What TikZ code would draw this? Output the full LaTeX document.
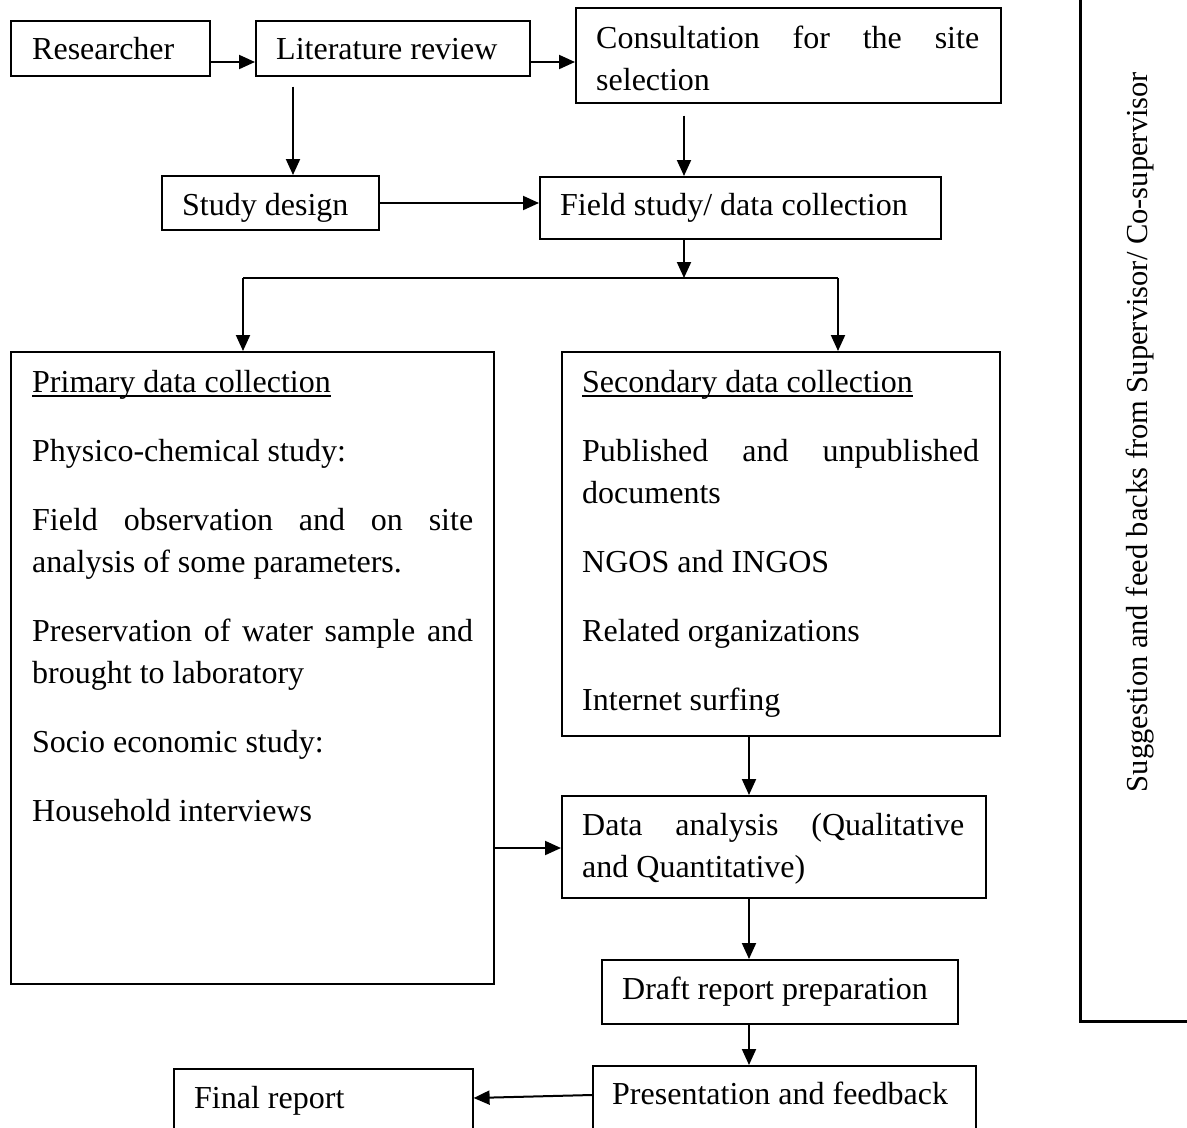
\documentclass[tikz,border=0pt]{standalone}
\usepackage{fontspec}
\setmainfont{Liberation Serif}
\usetikzlibrary{arrows.meta}
\begin{document}
\begin{tikzpicture}[x=1pt,y=-1pt,
  box/.style={draw, line width=1.6pt, rectangle, inner sep=0pt, anchor=north west},
  txt/.style={anchor=base west, inner sep=0pt, font=\fontsize{32}{42}\selectfont},
  arr/.style={line width=2pt, -{Triangle[length=16pt,width=14pt]}},
  ln/.style={line width=2pt},
  ul/.style={line width=1.5pt}]
\clip (0,0) rectangle (1187,1128);
\fill[white] (0,0) rectangle (1187,1128);

% boxes
\node[box, minimum width=199pt, minimum height=55pt] (res) at (10,20) {};
\node[box, minimum width=274pt, minimum height=55pt] (lit) at (255,20) {};
\node[box, minimum width=425pt, minimum height=95pt] (cons) at (575,7) {};
\node[box, minimum width=217pt, minimum height=54pt] (sd) at (161,175) {};
\node[box, minimum width=401pt, minimum height=62pt] (fs) at (539,176) {};
\node[box, minimum width=483pt, minimum height=632pt] (prim) at (10,351) {};
\node[box, minimum width=438pt, minimum height=384pt] (sec) at (561,351) {};
\node[box, minimum width=424pt, minimum height=102pt] (da) at (561,795) {};
\node[box, minimum width=356pt, minimum height=64pt] (dr) at (601,959) {};
\node[box, minimum width=383pt, minimum height=100pt] (pres) at (592,1065) {};
\node[box, minimum width=299pt, minimum height=100pt] (fin) at (173,1068) {};
\node[box, line width=2.6pt, minimum width=200pt, minimum height=1060pt] (sup) at (1079,-40) {};

% texts
\node[txt] (tres) at (32,59) {Researcher};
\node[txt] (tlit) at (276,59) {Literature review};
\node[txt] (tcons1) at (596,48) {\makebox[383pt][s]{Consultation for the site}};
\node[txt] (tcons2) at (596,90) {selection};
\node[txt] (tsd) at (182,215) {Study design};
\node[txt] (tfs) at (560,215) {Field study/ data collection};

\node[txt] (tprim) at (32,392) {Primary data collection};
\draw[ul] ([yshift=-4pt]tprim.base west) -- ([yshift=-4pt]tprim.base east);
\node[txt] (p1) at (32,461) {Physico-chemical study:};
\node[txt] (p2) at (32,530) {\makebox[441pt][s]{Field observation and on site}};
\node[txt] (p3) at (32,572) {analysis of some parameters.};
\node[txt] (p4) at (32,641) {\makebox[441pt][s]{Preservation of water sample and}};
\node[txt] (p5) at (32,683) {brought to laboratory};
\node[txt] (p6) at (32,752) {Socio economic study:};
\node[txt] (p7) at (32,821) {Household interviews};

\node[txt] (tsec) at (582,392) {Secondary data collection};
\draw[ul] ([yshift=-4pt]tsec.base west) -- ([yshift=-4pt]tsec.base east);
\node[txt] (s1) at (582,461) {\makebox[397pt][s]{Published and unpublished}};
\node[txt] (s2) at (582,503) {documents};
\node[txt] (s3) at (582,572) {NGOS and INGOS};
\node[txt] (s4) at (582,641) {Related organizations};
\node[txt] (s5) at (582,710) {Internet surfing};

\node[txt] (tda1) at (582,835) {\makebox[382pt][s]{Data analysis (Qualitative}};
\node[txt] (tda2) at (582,877) {and Quantitative)};
\node[txt] (tdr) at (622,999) {Draft report preparation};
\node[txt] (tpres) at (612,1104) {Presentation and feedback};
\node[txt] (tfin) at (194,1108) {Final report};

\node[rotate=90, inner sep=0pt, font=\fontsize{30.5}{31}\selectfont] (tsup) at (1140,432)
  {Suggestion and feed backs from Supervisor/ Co-supervisor};

% connectors
\coordinate (r62) at (0,62);
\coordinate (c293) at (293,0);
\coordinate (c684) at (684,0);
\coordinate (r203) at (0,203);
\coordinate (split) at (684,278);
\coordinate (sl) at (243,278);
\coordinate (sr) at (838,278);
\coordinate (c749) at (749,0);
\coordinate (r848) at (0,848);
\coordinate (r1095) at (0,1095);
\coordinate (r1098) at (0,1098);

\draw[arr] (res.east |- r62) -- (lit.west |- r62);
\draw[arr] (lit.east |- r62) -- (cons.west |- r62);
\draw[arr, shorten <=10pt] (lit.south -| c293) -- (sd.north -| c293);
\draw[arr, shorten <=12pt] (cons.south -| c684) -- (fs.north -| c684);
\draw[arr] (sd.east |- r203) -- (fs.west |- r203);
\draw[arr] (fs.south -| split) -- (split);
\draw[ln] (sl) -- (sr);
\draw[arr] (sl) -- (prim.north -| sl);
\draw[arr] (sr) -- (sec.north -| sr);
\draw[arr] (sec.south -| c749) -- (da.north -| c749);
\draw[arr] (prim.east |- r848) -- (da.west |- r848);
\draw[arr] (da.south -| c749) -- (dr.north -| c749);
\draw[arr] (dr.south -| c749) -- (pres.north -| c749);
\draw[arr] (pres.west |- r1095) -- (fin.east |- r1098);
\end{tikzpicture}
\end{document}
